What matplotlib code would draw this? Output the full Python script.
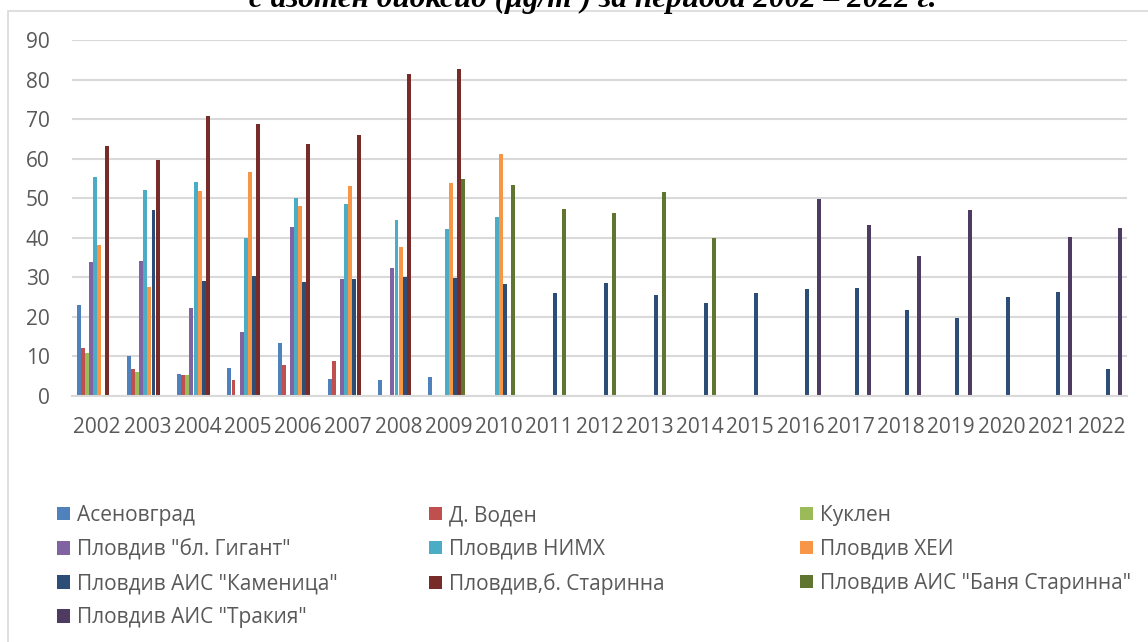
import numpy as np
import matplotlib
matplotlib.use("Agg")
import matplotlib.pyplot as plt
from matplotlib.patches import Rectangle

plt.rcParams['font.family'] = ['Open Sans', 'DejaVu Sans']

nan = np.nan
years = [str(y) for y in range(2002, 2023)]

labels = ['Асеновград', 'Д. Воден', 'Куклен', 'Пловдив "бл. Гигант"', 'Пловдив НИМХ',
          'Пловдив ХЕИ', 'Пловдив АИС "Каменица"', 'Пловдив,б. Старинна',
          'Пловдив АИС "Баня Старинна"', 'Пловдив АИС "Тракия"']
colors = ['#4F81BD', '#C0504D', '#9BBB59', '#8064A2', '#4BACC6',
          '#F79646', '#2C4D75', '#772C2A', '#5F7530', '#4D3B62']

asenovgrad = [23.1, 10.0, 5.5, 7.1, 13.3, 4.2, 4.0, 4.9] + [nan] * 13
d_voden = [12.1, 6.7, 5.4, 4.0, 7.8, 8.8] + [nan] * 15
kuklen = [10.9, 6.1, 5.3] + [nan] * 18
gigant = [34.0, 34.2, 22.2, 16.3, 42.7, 29.5, 32.3] + [nan] * 14
nimh = [55.4, 52.2, 54.0, 39.9, 50.0, 48.6, 44.5, 42.2, 45.2] + [nan] * 12
hei = [38.3, 27.5, 51.9, 56.6, 48.1, 53.0, 37.7, 53.8, 61.2] + [nan] * 12
kamenica = [nan, 47.0, 29.1, 30.3, 28.7, 29.7, 30.1, 29.8, 28.3, 26.1, 28.5,
            25.6, 23.4, 26.0, 27.0, 27.2, 21.8, 19.8, 25.0, 26.3, 6.9]
starinna = [63.2, 59.6, 70.9, 68.7, 63.8, 66.0, 81.3, 82.6] + [nan] * 13
banya = [nan] * 7 + [54.8, 53.3, 47.2, 46.3, 51.5, 39.9] + [nan] * 8
trakia = [nan] * 14 + [49.7, 43.2, 35.3, 47.1, nan, 40.3, 42.4]

series = [asenovgrad, d_voden, kuklen, gigant, nimh, hei, kamenica, starinna, banya, trakia]

fig = plt.figure(figsize=(11.48, 6.42), dpi=100)
ax = fig.add_axes([72 / 1148, 1 - 396 / 642, (1127 - 72) / 1148, (396 - 40) / 642])

x = np.arange(len(years))
step = 0.0815
handles = []
for j, (vals, col) in enumerate(zip(series, colors)):
    b = ax.bar(x + (j - 4.5) * step, vals, width=step * 0.97, color=col, label=labels[j])
    handles.append(b)

ax.set_xlim(-0.5, len(years) - 0.5)
ax.set_ylim(0, 90)
ax.set_yticks(range(0, 91, 10))
ax.set_xticks(x)
ax.set_xticklabels(years)
ax.yaxis.grid(True, color='#D9D9D9', lw=1.5)
ax.set_axisbelow(True)
for s in ['top', 'right', 'left']:
    ax.spines[s].set_visible(False)
ax.spines['bottom'].set_color('#D9D9D9')
ax.spines['bottom'].set_linewidth(1.5)
ax.tick_params(axis='both', length=0, labelsize=15, colors='#595959')
ax.tick_params(axis='y', pad=16)
ax.tick_params(axis='x', pad=15)

# chart border
fig.patches.append(Rectangle((8 / 1148, -0.1), 1.2, 1.1 - 11 / 642, transform=fig.transFigure,
                             fill=False, edgecolor='#D9D9D9', lw=1.2))

# title (top part is cut off in the source page)
fig.text(593 / 1148, 1 - 7 / 642, 'с азотен диоксид (µg/m³) за периода 2002 – 2022 г.',
         ha='center', va='baseline', fontsize=22.5, fontweight='bold', fontstyle='italic',
         family='Liberation Serif')

# legend, row-wise in three columns
col_x = [57, 429, 800]
for c in range(3):
    idx = list(range(c, 10, 3))
    fig.legend([handles[i] for i in idx], [labels[i] for i in idx],
               loc='upper left', bbox_to_anchor=(col_x[c] / 1148, 1 - 505 / 642),
               frameon=False, fontsize=15, labelcolor='#595959',
               borderpad=0, borderaxespad=0, handlelength=0.62, handleheight=0.62,
               handletextpad=0.35, labelspacing=0.62)

fig.savefig('out.png', dpi=100)
